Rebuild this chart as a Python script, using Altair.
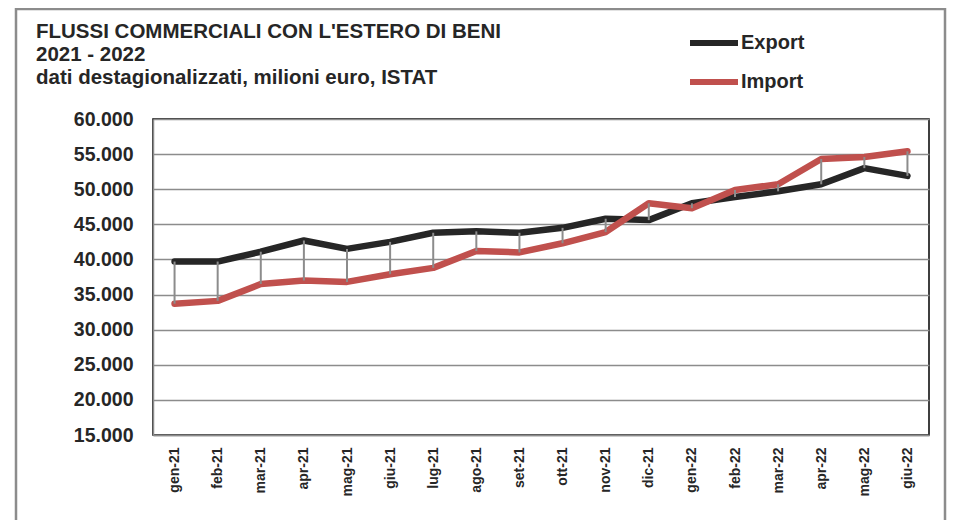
import altair as alt
import pandas as pd

months = ["gen-21", "feb-21", "mar-21", "apr-21", "mag-21", "giu-21", "lug-21", "ago-21",
          "set-21", "ott-21", "nov-21", "dic-21", "gen-22", "feb-22", "mar-22", "apr-22",
          "mag-22", "giu-22"]
export_vals = [39700, 39700, 41100, 42700, 41500, 42500, 43800, 44000, 43800, 44500,
               45800, 45600, 48000, 48900, 49700, 50700, 53000, 51900]
import_vals = [33700, 34100, 36500, 37000, 36800, 37900, 38800, 41200, 41000, 42300,
               43900, 48000, 47300, 49900, 50700, 54300, 54600, 55400]
series = ["Export", "Import"]
colors = ["#262626", "#C0504D"]
title_lines = ["FLUSSI COMMERCIALI CON L'ESTERO DI BENI", "2021 - 2022",
               "dati destagionalizzati, milioni euro, ISTAT"]
y_ticks = [15000, 20000, 25000, 30000, 35000, 40000, 45000, 50000, 55000, 60000]

wide = pd.DataFrame({"mese": months, "Export": export_vals, "Import": import_vals})
long = wide.melt(id_vars="mese", value_vars=series, var_name="serie", value_name="valore")
title_df = pd.DataFrame({"testo": ["\n".join(title_lines)]})

FONT = "Liberation Sans"
TXT = "#262626"
GRID = "#8c8c8c"

x_scale = alt.Scale(type="point", padding=0.5)
y_scale = alt.Scale(domain=[15000, 60000], nice=False, zero=False)

x_axis = alt.Axis(title=None, labelAngle=-90, labelFontSize=14,
                  labelFontWeight="bold", labelColor=TXT, labelFont=FONT,
                  ticks=False, labelPadding=12, domainColor=GRID,
                  domainWidth=1.5, labelAlign="right", labelBaseline="middle",
                  labelOverlap=False, grid=False)
y_axis = alt.Axis(title=None, values=y_ticks,
                  labelExpr="format(datum.value / 1000, '.3f')",
                  labelFontSize=19.5, labelFontWeight="bold", labelColor=TXT,
                  labelFont=FONT, ticks=False, labelPadding=20,
                  labelOverlap=False, labelFlush=False,
                  grid=True, gridColor=GRID, gridWidth=1.5, domainColor=GRID,
                  domainWidth=1.5)

frame = alt.Chart(title_df).mark_rect(fill=None, stroke=GRID, strokeWidth=2.5, clip=False).encode(
    x=alt.value(-137), x2=alt.value(792), y=alt.value(-110), y2=alt.value(600)
)

title = alt.Chart(title_df).mark_text(
    align="left", baseline="alphabetic", lineBreak="\n", lineHeight=23,
    fontSize=20.5, fontWeight="bold", color=TXT, font=FONT, clip=False
).encode(text="testo:N", x=alt.value(-117), y=alt.value(-81))

lines = alt.Chart(long).mark_line(strokeWidth=6.5, strokeCap="round", strokeJoin="round").encode(
    x=alt.X("mese:N", sort=months, scale=x_scale, axis=x_axis),
    y=alt.Y("valore:Q", scale=y_scale, axis=y_axis),
    color=alt.Color("serie:N", scale=alt.Scale(domain=series, range=colors),
                    legend=alt.Legend(title=None, orient="none", legendX=534, legendY=-103,
                                      symbolType="stroke", symbolSize=2304,
                                      symbolStrokeWidth=6, labelFontSize=20,
                                      labelFontWeight="bold", labelColor=TXT,
                                      labelFont=FONT, labelOffset=0, rowPadding=-11,
                                      symbolOffset=0)),
)

rules = alt.Chart(wide).mark_rule(color=GRID, strokeWidth=2).encode(
    x=alt.X("mese:N", sort=months, scale=x_scale, axis=x_axis),
    y=alt.Y("Export:Q", scale=y_scale, axis=y_axis),
    y2="Import:Q",
)

chart = alt.layer(frame, title, lines, rules).properties(
    width=776, height=316,
    padding={"left": 145, "top": 111, "right": 18, "bottom": 85},
    autosize=alt.AutoSizeParams(type="none"),
    background="white",
).configure_view(stroke="#000000", strokeWidth=1.5)

chart.save("out.html", embed_options={"renderer": "svg", "actions": False})
